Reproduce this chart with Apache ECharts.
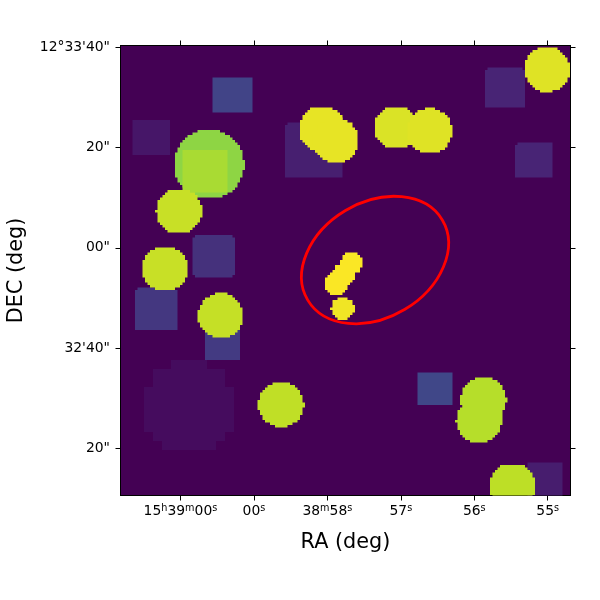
<!DOCTYPE html>
<html><head><meta charset="utf-8">
<style>html,body{margin:0;padding:0;background:#fff}#c{width:600px;height:600px}</style>
<script src="https://cdn.jsdelivr.net/npm/echarts@6/dist/echarts.min.js"></script>
</head><body><div id="c"></div>
<script>
// RA axis: seconds of time; DEC axis: arcsec above 12d32m00s
const raTicks = [60, 59, 58, 57, 56, 55];
const raTickLabels = ['{n|15}{s|h}{n|39}{s|m}{n|00}{s|s}', '{n|00}{s|s}', '{n|38}{s|m}{n|58}{s|s}', '{n|57}{s|s}', '{n|56}{s|s}', '{n|55}{s|s}'];
const decTicks = [100, 80, 60, 40, 20];
const decTickLabels = ['12°33\'40"', '20"', '00"', '32\'40"', '20"'];

// Sources. kind: 0 circle, 1 square, 2 coarse circle
const srcRa    = [59.89, 59.292, 60.403, 58.177, 59.552, 60.328, 59.431, 56.538, 55.581, 55.189, 55.039,
                  59.611, 59.662, 55.009, 57.065, 56.609, 58.072, 57.882, 60.019, 60.21, 59.454, 58.63,
                  55.873, 55.935, 55.479, 57.67, 57.773, 57.882, 57.793];
const srcDec   = [27.94, 90.47, 81.93, 79.38, 58.3, 47.65, 41, 31.79, 91.86, 77.36, 13.48,
                  76.61, 75.41, 95.55, 83.98, 83.29, 83.69, 81.39, 67.33, 55.86, 46.49, 28.74,
                  29.74, 25.55, 12.49, 56.96, 54.77, 52.77, 47.89];
const srcHalfW = [9.47, 3.87, 3.83, 5.65, 4.12, 4.06, 3.57, 3.39, 3.85, 3.62, 3.62,
                  6.98, 4.43, 4.53, 4.33, 4.55, 4.6, 4.53, 4.55, 4.53, 4.5, 4.55,
                  4.55, 4.55, 4.55, 2.2, 2.2, 2.3, 2.3];
const srcHalfH = [9.47, 3.65, 3.56, 5.5, 4.06, 4.25, 3.53, 3.36, 4.05, 3.59, 3.65,
                  6.98, 4.29, 4.53, 4.33, 4.55, 4.6, 4.53, 4.55, 4.53, 4.5, 4.55,
                  4.55, 4.55, 4.55, 2.2, 2.2, 2.3, 2.3];
const srcKind  = [2, 1, 1, 1, 1, 1, 1, 1, 1, 1, 1,
                  0, 1, 0, 0, 0, 0, 0, 0, 0, 0, 0,
                  0, 0, 0, 0, 0, 0, 0];
const srcValue = [0.03, 0.2, 0.06, 0.085, 0.14, 0.16, 0.17, 0.21, 0.1, 0.1, 0.08,
                  0.83, 0.87, 0.953, 0.945, 0.953, 0.965, 0.965, 0.917, 0.917, 0.912, 0.905,
                  0.89, 0.89, 0.9, 0.995, 0.995, 0.995, 0.98];

// Red ellipse: RA, DEC, semi-major ("), semi-minor ("), angle (deg)
const ellipseRow = [57.351, 57.56, 15.62, 11.5, 30.8];

const viridis = ['#440154', '#482475', '#414487', '#355f8d', '#2a788e', '#21918c', '#22a884', '#44bf70', '#7ad151', '#bddf26', '#fde725'];

const rows = srcRa.map((r, i) => [r, srcDec[i], srcHalfW[i], srcHalfH[i], srcKind[i], srcValue[i]]);

function stairs(cx, cy, hw, hh, kind, g) {
  // outline of a shape sampled on the image's pixel grid
  const cut = 3;
  const half = dy => {
    if (kind === 1) {
      const a = Math.abs(dy);
      if (a > hh) return -1;
      const over = a - (hh - cut);
      return over > 0 ? hw - cut + Math.sqrt(Math.max(cut * cut - over * over, 0)) : hw;
    }
    return Math.abs(dy) > hh ? -1 : Math.sqrt(hh * hh - dy * dy);
  };
  const minHalf = (kind === 2 ? 0.35 : 0.22) * hw;
  const R = [], L = [];
  const j0 = Math.floor((cy - hh) / g), j1 = Math.ceil((cy + hh) / g);
  for (let j = j0; j <= j1; j++) {
    const h = half((j + 0.5) * g - cy);
    if (h < minHalf) continue;
    const xl = Math.round((cx - h) / g) * g, xr = Math.round((cx + h) / g) * g;
    R.push([xr, j * g], [xr, (j + 1) * g]);
    L.push([xl, j * g], [xl, (j + 1) * g]);
  }
  return R.concat(L.reverse());
}

const renderSrc = (params, api) => {
  const c = api.coord([api.value(0), api.value(1)]);
  const sy = api.size([0, 1])[1];
  const kind = api.value(4);
  const pts = stairs(c[0], c[1], api.value(2) * sy, api.value(3) * sy, kind, kind === 2 ? 9 : 2.5);
  return { type: 'polygon', shape: { points: pts }, style: { fill: api.visual('color') } };
};
const renderEll = (params, api) => {
  const c = api.coord([api.value(0), api.value(1)]);
  const sy = api.size([0, 1])[1];
  return { type: 'ellipse',
    shape: { cx: c[0], cy: c[1], rx: api.value(2) * sy, ry: api.value(3) * sy },
    rotation: api.value(4) * Math.PI / 180, originX: c[0], originY: c[1],
    style: { fill: 'none', stroke: '#ff0000', lineWidth: 2.8 } };
};

const xMin = 60.816, xMax = 54.69, yMin = 10.6, yMax = 100.34;
const font = 'DejaVu Sans';
const line = { show: true, onZero: false, lineStyle: { color: '#000', width: 1 } };
const tick = vals => ({ show: true, length: 5, inside: false, lineStyle: { color: '#000', width: 1 }, customValues: vals });
const baseX = { type: 'value', inverse: true, min: xMax, max: xMin, splitLine: { show: false }, axisLine: line, axisTick: tick(raTicks) };
const baseY = { type: 'value', min: yMin, max: yMax, splitLine: { show: false }, axisLine: line, axisTick: tick(decTicks) };

const chart = echarts.init(document.getElementById('c'), null, { renderer: 'canvas' });
chart.setOption({
  animation: false,
  backgroundColor: '#fff',
  grid: { left: 120.5, top: 45.5, width: 450, height: 450, show: true, backgroundColor: viridis[0], borderWidth: 0, outerBoundsMode: 'none' },
  visualMap: { show: false, type: 'continuous', min: 0, max: 1, dimension: 5, seriesIndex: 0, inRange: { color: viridis } },
  xAxis: [
    Object.assign({}, baseX, { position: 'bottom',
      name: 'RA (deg)', nameLocation: 'middle', nameGap: 37,
      nameTextStyle: { fontFamily: font, fontSize: 20.8, color: '#000' },
      axisLabel: { show: true, margin: 8, customValues: raTicks, color: '#000', fontFamily: font, fontSize: 13.9,
        formatter: v => raTickLabels[raTicks.indexOf(v)],
        rich: { n: { fontFamily: font, fontSize: 13.9, lineHeight: 16, color: '#000' },
                s: { fontFamily: font, fontSize: 9.7, lineHeight: 10, verticalAlign: 'top', color: '#000' } } } }),
    Object.assign({}, baseX, { position: 'top', axisLabel: { show: false } })
  ],
  yAxis: [
    Object.assign({}, baseY, { position: 'left',
      name: 'DEC (deg)', nameLocation: 'middle', nameGap: 93, nameRotate: 90,
      nameTextStyle: { fontFamily: font, fontSize: 20.8, color: '#000' },
      axisLabel: { show: true, margin: 10.5, customValues: decTicks, color: '#000', fontFamily: font, fontSize: 13.9,
        formatter: v => decTickLabels[decTicks.indexOf(v)] } }),
    Object.assign({}, baseY, { position: 'right', axisLabel: { show: false } })
  ],
  series: [
    { type: 'custom', coordinateSystem: 'cartesian2d', xAxisIndex: 0, yAxisIndex: 0, clip: true, silent: true,
      renderItem: renderSrc, encode: { x: 0, y: 1 }, data: rows },
    { type: 'custom', coordinateSystem: 'cartesian2d', xAxisIndex: 0, yAxisIndex: 0, clip: true, silent: true,
      renderItem: renderEll, encode: { x: 0, y: 1 }, data: [ellipseRow] }
  ]
});
</script></body></html>
